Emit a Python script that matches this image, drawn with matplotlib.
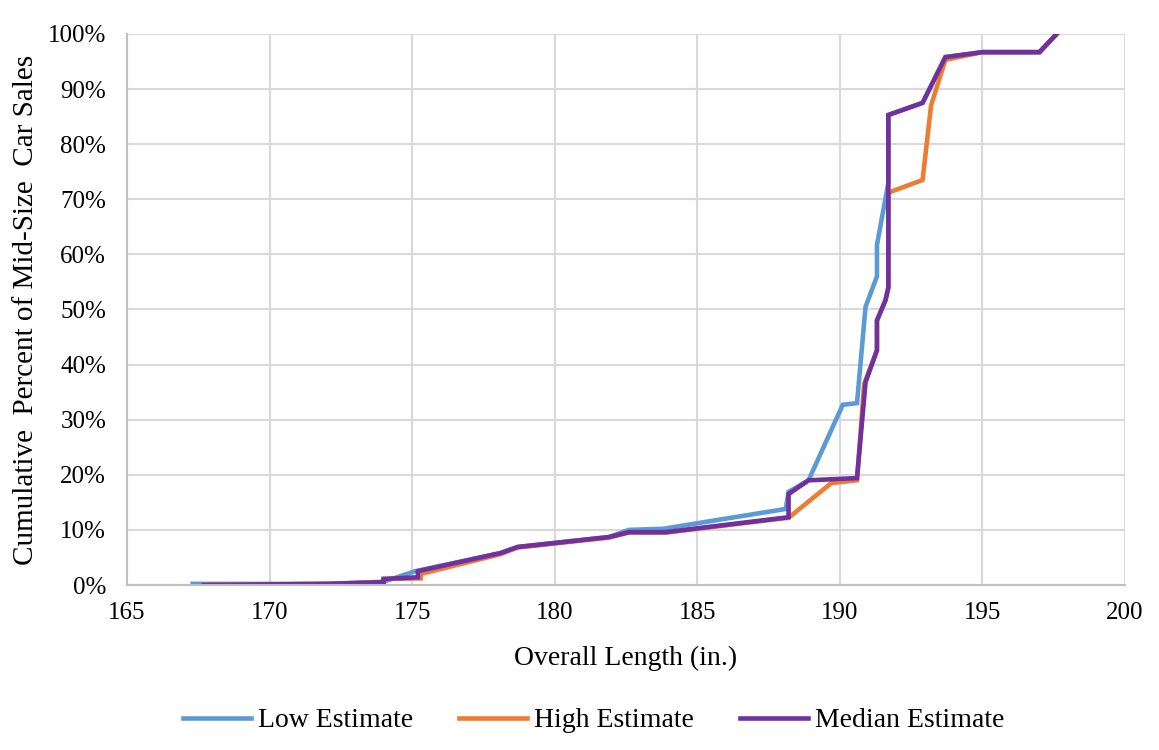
import matplotlib.pyplot as plt
from matplotlib.ticker import PercentFormatter

plt.rcParams['font.family'] = ['Liberation Serif', 'DejaVu Serif']

# cumulative share of mid-size car sales vs overall length (in.)
low_x = [167.3, 172.0, 174.0, 175.1, 178.1, 178.7, 181.9, 182.6, 183.8, 188.1, 188.2, 188.9,
         190.1, 190.6, 190.9, 191.3, 191.3, 191.7, 191.7, 192.9, 193.7, 195.0, 197.0, 197.6]
low_y = [0.2, 0.2, 0.6, 2.5, 5.8, 6.9, 8.7, 10.0, 10.2, 13.8, 16.9, 19.0,
         32.7, 33.0, 50.5, 56.0, 61.7, 73.0, 85.3, 87.5, 95.8, 96.7, 96.7, 100.0]

high_x = [167.7, 172.0, 174.0, 174.0, 175.3, 175.3, 178.1, 178.7, 181.9, 182.6, 183.9, 188.2,
          188.96, 189.7, 190.6, 190.85, 191.3, 191.3, 191.6, 191.7, 191.7, 192.9, 193.2,
          193.7, 195.0, 197.0, 197.6]
high_y = [0.0, 0.2, 0.5, 1.1, 1.2, 2.0, 5.6, 6.8, 8.6, 9.5, 9.5, 12.2,
          15.4, 18.5, 19.0, 36.5, 42.6, 48.0, 51.7, 54.0, 71.2, 73.5, 87.1,
          95.3, 96.7, 96.7, 100.0]

med_x = [167.7, 172.0, 174.0, 174.0, 175.2, 175.2, 178.1, 178.7, 181.9, 182.6, 183.9, 188.2,
         188.2, 188.9, 190.6, 190.9, 191.3, 191.3, 191.6, 191.7, 191.7, 192.9, 193.7,
         195.0, 197.0, 197.6]
med_y = [0.0, 0.2, 0.5, 1.1, 1.4, 2.5, 5.8, 6.9, 8.7, 9.6, 9.6, 12.3,
         16.5, 19.0, 19.4, 36.8, 42.6, 48.0, 51.7, 54.0, 85.3, 87.5, 95.8,
         96.7, 96.7, 100.0]

fig = plt.figure(figsize=(11.59, 7.5), dpi=100)
ax = fig.add_axes([0.1096, 0.22, 0.8611, 0.7347])

ax.plot(low_x, low_y, color='#5B9BD5', lw=3.3, label='Low Estimate', solid_joinstyle='miter')
ax.plot(high_x, high_y, color='#ED7D31', lw=3.3, label='High Estimate', solid_joinstyle='miter')
ax.plot(med_x, med_y, color='#7030A0', lw=3.3, label='Median Estimate', solid_joinstyle='miter')

ax.set_xlim(165, 200)
ax.set_ylim(0, 100)
ax.set_xticks(range(165, 201, 5))
ax.set_yticks(range(0, 101, 10))
ax.yaxis.set_major_formatter(PercentFormatter(decimals=0))
ax.grid(True, color='#D9D9D9', lw=1.5)
ax.set_axisbelow(True)
for s in ['top', 'right']:
    ax.spines[s].set_visible(False)
for s in ['left', 'bottom']:
    ax.spines[s].set_color('#BFBFBF')
    ax.spines[s].set_linewidth(1.5)
ax.tick_params(length=0, labelsize=18, colors='black')
ax.tick_params(axis='y', pad=15)
ax.tick_params(axis='x', pad=12)

ax.set_xlabel('Overall Length (in.)', fontsize=20, labelpad=16)
ax.set_ylabel('Cumulative  Percent of Mid-Size  Car Sales', fontsize=21, labelpad=6)

fig.legend(loc='lower center', bbox_to_anchor=(0.512, -0.011), ncol=3, frameon=False,
           fontsize=20, handlelength=2.45, handletextpad=0.25, columnspacing=1.65)

fig.savefig('out.png', dpi=100)
